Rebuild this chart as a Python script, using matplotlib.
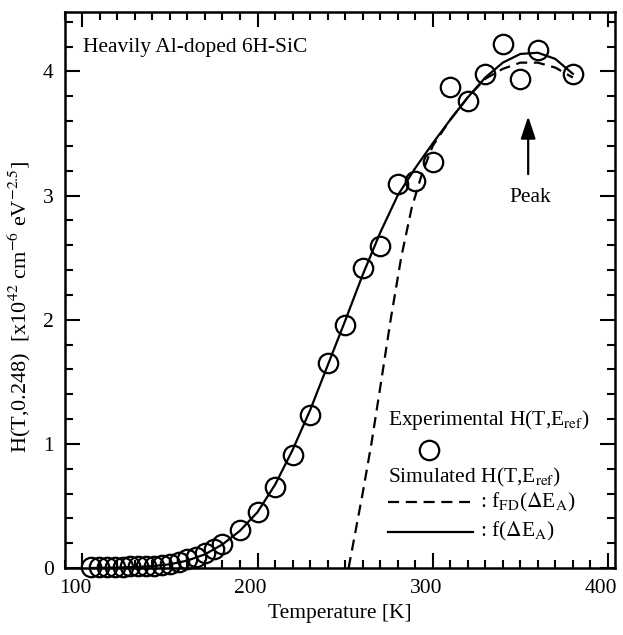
import numpy as np
import matplotlib

matplotlib.use("Agg")
import matplotlib.pyplot as plt
from matplotlib.ticker import MultipleLocator
from matplotlib.transforms import ScaledTranslation

# Experimental H(T, E_ref) points
temp_exp = [105, 109.5, 114, 118.5, 123, 127.5, 132, 136.5, 141, 145.5,
            150, 155, 160, 165, 170, 175, 180, 190, 200, 210, 220, 230,
            240, 250, 260, 270, 280, 290, 300, 310, 320, 330, 340, 350,
            360, 380]
h_exp = [0.01, 0.01, 0.01, 0.01, 0.01, 0.015, 0.015, 0.02, 0.02, 0.025,
         0.03, 0.045, 0.07, 0.09, 0.12, 0.15, 0.19, 0.31, 0.45, 0.65,
         0.91, 1.23, 1.65, 1.96, 2.42, 2.59, 3.09, 3.12, 3.27, 3.87,
         3.76, 3.98, 4.22, 3.94, 4.17, 3.98]

# Simulated, f(dE_A)
temp_f = [105, 120, 130, 140, 150, 160, 170, 180, 190, 200, 210, 220,
          230, 240, 250, 260, 270, 280, 290, 300, 310, 320, 330, 340,
          350, 360, 370, 380]
h_f = [0.0, 0.004, 0.008, 0.015, 0.03, 0.06, 0.11, 0.19, 0.3, 0.45,
       0.67, 0.95, 1.27, 1.63, 1.99, 2.36, 2.7, 3.0, 3.22, 3.42, 3.61,
       3.79, 3.95, 4.07, 4.14, 4.15, 4.1, 3.98]

# Simulated, f_FD(dE_A)
temp_fd = [252, 256, 260, 265, 270, 276, 282, 288, 294, 300, 310, 320,
           330, 340, 350, 360, 370, 380]
h_fd = [0.0, 0.3, 0.6, 1.0, 1.45, 2.0, 2.5, 2.9, 3.18, 3.4, 3.61, 3.79,
        3.94, 4.02, 4.07, 4.07, 4.03, 3.95]

plt.rcParams["font.family"] = ["Liberation Serif", "DejaVu Serif"]
plt.rcParams["mathtext.fontset"] = "stix"
plt.rcParams["font.size"] = 15

fig = plt.figure(figsize=(6.23, 6.35), dpi=100)
ax = fig.add_axes([0.104, 0.1055, 0.883, 0.876])

ax.plot(temp_f, h_f, color="black", lw=1.6)
ax.plot(temp_fd, h_fd, color="black", lw=1.6, ls=(0, (5, 3)))
ax.plot(temp_exp, h_exp, ls="none", marker="o", ms=14, mfc="none",
        mec="black", mew=1.6, clip_on=False)

ax.set_xlim(90, 404)
ax.set_ylim(0, 4.48)
ax.xaxis.set_major_locator(MultipleLocator(100))
ax.xaxis.set_minor_locator(MultipleLocator(10))
ax.yaxis.set_major_locator(MultipleLocator(1))
ax.yaxis.set_minor_locator(MultipleLocator(0.2))
ax.tick_params(which="both", direction="in", top=True, right=True,
               width=1.5, labelsize=15.5)
ax.tick_params(which="major", length=11, pad=8)
ax.tick_params(which="minor", length=6)
for s in ax.spines.values():
    s.set_linewidth(1.8)
shift = ScaledTranslation(-7 / 100, 0, fig.dpi_scale_trans)
for lab in ax.get_xticklabels():
    lab.set_transform(lab.get_transform() + shift)

ax.set_xlabel("Temperature [K]", fontsize=15.5, labelpad=4)
ax.set_ylabel(r"H(T,0.248)  [x10$^{42}$ cm$^{-6}$ eV$^{-2.5}$]",
              fontsize=16)
ax.yaxis.set_label_coords(-0.058, 0.47)

ax.text(100.3, 4.19, "Heavily Al-doped 6H-SiC", fontsize=15.5,
        ha="left", va="center")
ax.annotate("", xy=(354.5, 3.66), xytext=(354.5, 3.15),
            arrowprops=dict(arrowstyle="-|>,head_length=0.9,head_width=0.3",
                            color="black", lw=1.6))
ax.text(355.5, 2.98, "Peak", fontsize=15.5, ha="center", va="center")

# hand-built legend block
tr = ax.transAxes
ax.text(0.587, 0.266, r"Experimental H(T,E$_{\rm ref}$)", transform=tr,
        ha="left", va="center", fontsize=15.5)
ax.plot([0.662], [0.212], transform=tr, ls="none", marker="o", ms=14,
        mfc="none", mec="black", mew=1.6)
ax.text(0.587, 0.162, r"Simulated H(T,E$_{\rm ref}$)", transform=tr,
        ha="left", va="center", fontsize=15.5)
ax.plot([0.587, 0.736], [0.118, 0.118], transform=tr, color="black",
        lw=1.6, ls=(0, (5, 3)))
ax.text(0.755, 0.118, r": f$_{\rm FD}$($\Delta$E$_{\rm A}$)", transform=tr,
        ha="left", va="center", fontsize=15.5)
ax.plot([0.587, 0.742], [0.065, 0.065], transform=tr, color="black", lw=1.6)
ax.text(0.755, 0.065, r": f($\Delta$E$_{\rm A}$)", transform=tr,
        ha="left", va="center", fontsize=15.5)

fig.savefig("out.png", dpi=100)
